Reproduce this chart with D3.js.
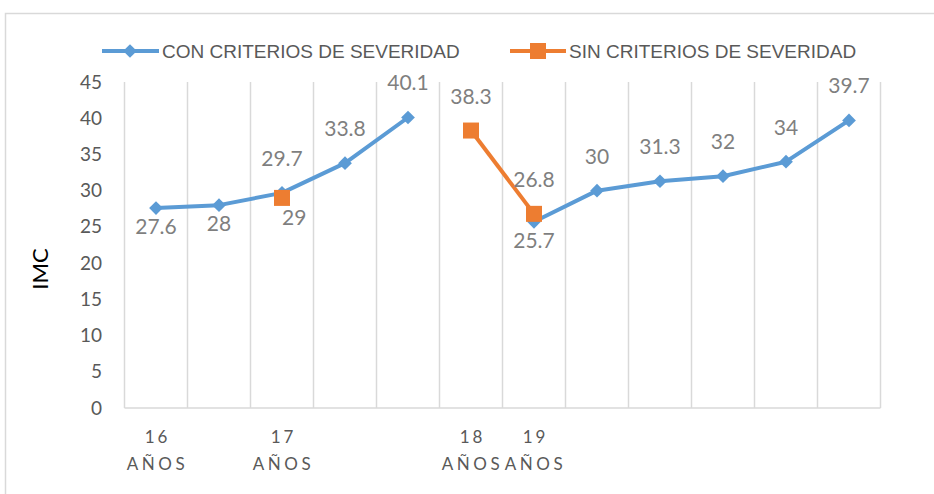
<!DOCTYPE html>
<html>
<head>
<meta charset="utf-8">
<script src="https://cdn.jsdelivr.net/npm/d3@7"></script>
<style>
body { margin: 0; background: #fff; }
text { font-family: Lato, "Open Sans", sans-serif; }
</style>
</head>
<body>
<script>
var w = 934, h = 494;

// categorías (solo algunas llevan etiqueta)
var categories = ["c1","c2","c3","c4","c5","c6","c7","c8","c9","c10","c11","c12"];
var catLabels = [["16","AÑOS"], null, ["17","AÑOS"], null, null, ["18","AÑOS"], ["19","AÑOS"], null, null, null, null, null];
var conValues = [27.6, 28, 29.7, 33.8, 40.1, null, 25.7, 30, 31.3, 32, 34, 39.7];
var sinValues = [null, null, 29, null, null, 38.3, 26.8, null, null, null, null, null];
// posición de la etiqueta: arriba / abajo / derecha
var conLabelPos = ["below","below","above","above","above",null,"below","above","above","above","above","above"];
var sinLabelPos = [null,null,"right",null,null,"above","above",null,null,null,null,null];
var yTicks = [0,5,10,15,20,25,30,35,40,45];

var blue = "#5b9bd5", orange = "#ed7d31";

var svg = d3.select("body").append("svg")
    .attr("width", w)
    .attr("height", h);

// borde del área del gráfico
svg.append("path")
    .attr("d", "M5.5," + h + "V13.5H" + w)
    .attr("fill", "none")
    .attr("stroke", "#d9d9d9")
    .attr("stroke-width", 1.5);

var x = d3.scaleBand().domain(categories).range([124.5, 880.5]);
var y = d3.scaleLinear().domain([0, 45]).range([408, 82]);

// líneas de cuadrícula verticales en los límites de categoría
var bounds = categories.map(function(c){ return x(c); }).concat([x.range()[1]]);
svg.selectAll(".grid")
    .data(bounds)
    .enter()
    .append("line")
    .attr("x1", function(d){ return d; })
    .attr("x2", function(d){ return d; })
    .attr("y1", y(45))
    .attr("y2", y(0))
    .attr("stroke", "#d9d9d9")
    .attr("stroke-width", 1.5);

// eje x
svg.append("line")
    .attr("x1", x.range()[0]).attr("x2", x.range()[1])
    .attr("y1", y(0)).attr("y2", y(0))
    .attr("stroke", "#d9d9d9").attr("stroke-width", 1.5);

// eje y
var yAxis = svg.append("g")
    .attr("transform", "translate(102,0)")
    .call(d3.axisLeft(y).tickValues(yTicks).tickSize(0).tickPadding(0));
yAxis.select(".domain").remove();
yAxis.selectAll("text")
    .attr("font-size", 19)
    .attr("fill", "#595959")
    .style("font-family", "Lato, sans-serif");

svg.append("text")
    .attr("transform", "translate(48,269) rotate(-90)")
    .attr("text-anchor", "middle")
    .attr("font-size", 22)
    .attr("fill", "#000")
    .text("IMC");

// etiquetas de categoría
var xl = svg.append("g");
categories.forEach(function(c, i){
    if (!catLabels[i]) return;
    var cx = x(c) + x.bandwidth() / 2 + 1.5;
    xl.append("text")
        .attr("x", cx).attr("y", 443)
        .attr("text-anchor", "middle")
        .attr("font-size", 17)
        .attr("letter-spacing", 3)
        .attr("fill", "#595959")
        .text(catLabels[i][0]);
    xl.append("text")
        .attr("x", cx).attr("y", 470)
        .attr("text-anchor", "middle")
        .attr("font-size", 17)
        .attr("letter-spacing", 3.5)
        .attr("fill", "#595959")
        .text(catLabels[i][1]);
});

var line = d3.line()
    .defined(function(d){ return d.v != null; })
    .x(function(d){ return x(d.c) + x.bandwidth() / 2; })
    .y(function(d){ return y(d.v); });

function series(vals){
    return vals.map(function(v, i){ return { c: categories[i], v: v, i: i }; });
}
var conData = series(conValues), sinData = series(sinValues);

svg.append("path")
    .datum(conData)
    .attr("d", line)
    .attr("fill", "none")
    .attr("stroke", blue)
    .attr("stroke-width", 4)
    .attr("stroke-linejoin", "round");

svg.selectAll(".diamond")
    .data(conData.filter(function(d){ return d.v != null; }))
    .enter()
    .append("path")
    .attr("d", d3.symbol().type(d3.symbolDiamond2).size(120))
    .attr("transform", function(d){ return "translate(" + (x(d.c) + x.bandwidth() / 2) + "," + y(d.v) + ")"; })
    .attr("fill", blue);

svg.append("path")
    .datum(sinData)
    .attr("d", line)
    .attr("fill", "none")
    .attr("stroke", orange)
    .attr("stroke-width", 4);

svg.selectAll(".square")
    .data(sinData.filter(function(d){ return d.v != null; }))
    .enter()
    .append("rect")
    .attr("x", function(d){ return x(d.c) + x.bandwidth() / 2 - 8; })
    .attr("y", function(d){ return y(d.v) - 8; })
    .attr("width", 16)
    .attr("height", 16)
    .attr("fill", orange);

// etiquetas de datos
function labels(data, pos){
    svg.selectAll(null)
        .data(data.filter(function(d){ return d.v != null; }))
        .enter()
        .append("text")
        .attr("x", function(d){
            var cx = x(d.c) + x.bandwidth() / 2;
            return pos[d.i] == "right" ? cx : cx;
        })
        .attr("y", function(d){
            var p = pos[d.i], py = y(d.v);
            if (p == "above") return py - 27;
            if (p == "below") return py + 26;
            return py + 27;
        })
        .attr("text-anchor", function(d){ return pos[d.i] == "right" ? "start" : "middle"; })
        .attr("font-size", 21)
        .attr("fill", "#7f7f7f")
        .text(function(d){ return d.v; });
}
labels(conData, conLabelPos);
labels(sinData, sinLabelPos);

// leyenda
var lg = svg.append("g");
lg.append("line").attr("x1", 102).attr("x2", 159).attr("y1", 51).attr("y2", 51)
    .attr("stroke", blue).attr("stroke-width", 4);
lg.append("path").attr("d", d3.symbol().type(d3.symbolDiamond2).size(120))
    .attr("transform", "translate(130,51)").attr("fill", blue);
lg.append("text").attr("x", 162).attr("y", 58).attr("font-size", 19)
    .attr("fill", "#595959").style("font-family", "'Liberation Sans Narrow', sans-serif")
    .text("CON CRITERIOS DE SEVERIDAD");
lg.append("line").attr("x1", 510).attr("x2", 566).attr("y1", 51).attr("y2", 51)
    .attr("stroke", orange).attr("stroke-width", 4);
lg.append("rect").attr("x", 530).attr("y", 43).attr("width", 16).attr("height", 16)
    .attr("fill", orange);
lg.append("text").attr("x", 569).attr("y", 58).attr("font-size", 19)
    .attr("fill", "#595959").style("font-family", "'Liberation Sans Narrow', sans-serif")
    .text("SIN CRITERIOS DE SEVERIDAD");
</script>
</body>
</html>
